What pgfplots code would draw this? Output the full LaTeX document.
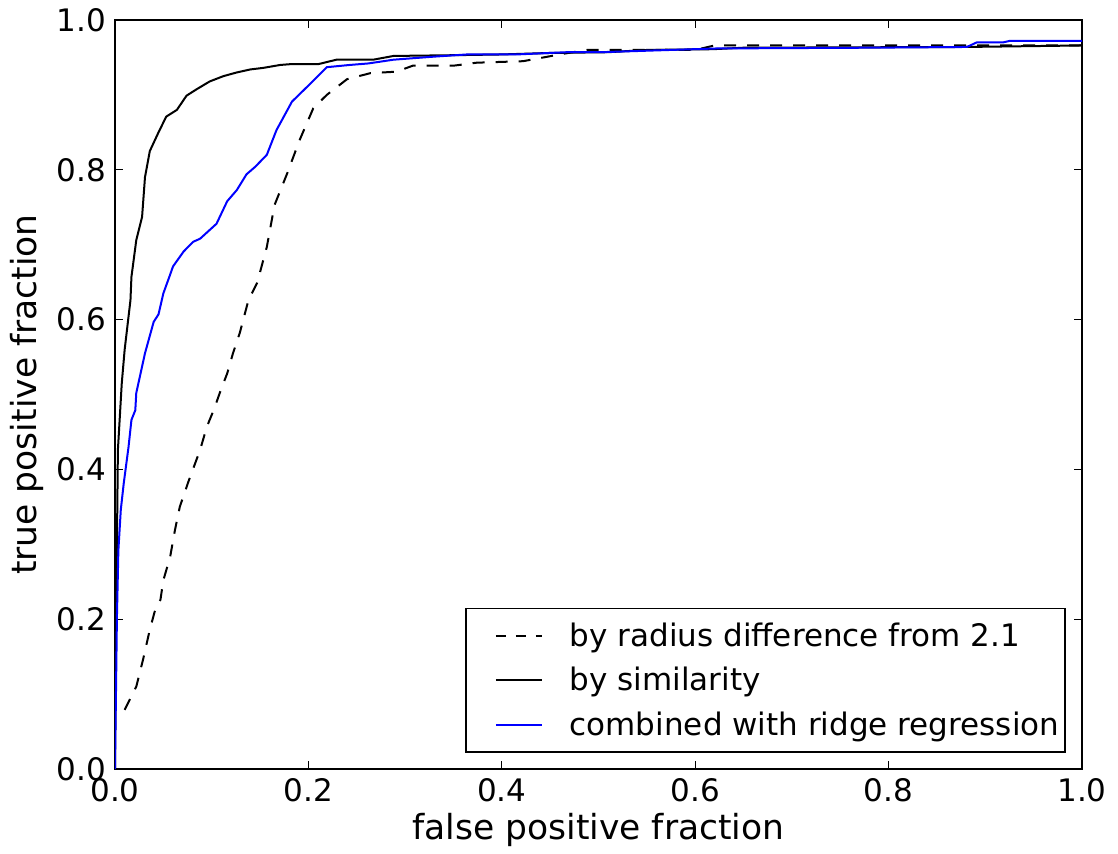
\documentclass[border=0pt]{standalone}
\usepackage{pgfplots}
\pgfplotsset{compat=1.18}
\usepackage{fontspec}
\setmainfont{DejaVu Sans}
\begin{document}
\begin{tikzpicture}
\begin{axis}[
  at={(0,0)}, anchor=south west,
  scale only axis, width=483.5pt, height=374.5pt,
  xmin=0, xmax=1, ymin=0, ymax=1,
  xtick={0,0.2,0.4,0.6,0.8,1.0}, ytick={0,0.2,0.4,0.6,0.8,1.0},
  minor tick num=0,
  tick align=inside, major tick length=4pt,
  tick style={line width=0.6pt, black},
  axis line style={line width=1pt},
  /pgf/number format/assume math mode=true,
  /pgf/number format/fixed,
  /pgf/number format/fixed zerofill,
  /pgf/number format/precision=1,
  ticklabel style={font=\fontsize{15.5}{18}\selectfont},
  xticklabel style={yshift=-1pt},
  yticklabel style={xshift=-1pt},
  xlabel={false positive fraction},
  ylabel={true positive fraction},
  label style={font=\fontsize{17.25}{20}\selectfont},
  xlabel style={at={(axis description cs:0.5,-0.0814)}, anchor=center},
  ylabel style={at={(axis description cs:-0.091,0.5)}, anchor=center, rotate=0},
  legend style={at={(rel axis cs:0.9835,0.0214)}, anchor=south east,
    draw=black, line width=0.8pt, fill=white, inner xsep=1pt, inner ysep=5pt,
    font=\fontsize{15.5}{18}\selectfont, row sep=5pt,
    cells={anchor=west}},
  legend cell align=left,
  legend image code/.code={\path (-13.5pt,0pt) (34.5pt,0pt);\draw[#1] (0pt,0pt) -- (23pt,0pt);},
]
\addplot[black, line width=1pt, dash pattern=on 6pt off 5.5pt,
  legend image post style={dash pattern=on 5pt off 5pt}] coordinates {
(0.010,0.079) (0.022,0.110) (0.029,0.146) (0.036,0.186) (0.041,0.210)
(0.047,0.226) (0.050,0.252) (0.057,0.283) (0.062,0.319) (0.067,0.350)
(0.076,0.384) (0.088,0.426) (0.095,0.457) (0.102,0.479) (0.110,0.508)
(0.116,0.528) (0.122,0.555) (0.129,0.582) (0.138,0.626) (0.147,0.649)
(0.157,0.697) (0.165,0.753) (0.178,0.795) (0.191,0.840) (0.205,0.882)
(0.219,0.900) (0.240,0.921) (0.264,0.929) (0.291,0.931) (0.308,0.939)
(0.350,0.939) (0.374,0.943) (0.422,0.945) (0.464,0.955) (0.488,0.960)
(0.600,0.960) (0.620,0.966) (1.000,0.966)
};
\addlegendentry{by radius difference from 2.1}
\addplot[black, line width=1pt] coordinates {
(0,0) (0.001,0.200) (0.002,0.300) (0.003,0.426) (0.007,0.515)
(0.010,0.560) (0.016,0.626) (0.017,0.657) (0.022,0.706) (0.028,0.737)
(0.031,0.790) (0.036,0.825) (0.045,0.850) (0.053,0.871) (0.064,0.880)
(0.074,0.899) (0.085,0.908) (0.098,0.918) (0.112,0.925) (0.126,0.930)
(0.140,0.934) (0.153,0.936) (0.171,0.940) (0.181,0.941) (0.210,0.941)
(0.229,0.947) (0.267,0.947) (0.288,0.952) (0.350,0.953) (0.400,0.954)
(0.450,0.956) (0.510,0.957) (0.550,0.960) (0.618,0.961) (0.650,0.963)
(0.880,0.964) (1.000,0.966)
};
\addlegendentry{by similarity}
\addplot[blue, line width=1pt] coordinates {
(0,0) (0.001,0.100) (0.002,0.203) (0.0035,0.292) (0.006,0.346)
(0.009,0.381) (0.014,0.430) (0.017,0.466) (0.021,0.479) (0.022,0.502)
(0.031,0.555) (0.040,0.597) (0.045,0.607) (0.050,0.635) (0.057,0.660)
(0.060,0.671) (0.071,0.691) (0.081,0.704) (0.088,0.708) (0.105,0.728)
(0.116,0.758) (0.126,0.773) (0.136,0.794) (0.145,0.804) (0.157,0.820)
(0.167,0.853) (0.183,0.891) (0.202,0.915) (0.219,0.937) (0.243,0.940)
(0.262,0.942) (0.288,0.947) (0.329,0.951) (0.364,0.954) (0.415,0.954)
(0.467,0.957) (0.502,0.957) (0.622,0.962) (0.777,0.963) (0.881,0.964)
(0.891,0.970) (0.918,0.970) (0.925,0.972) (1.000,0.972)
};
\addlegendentry{combined with ridge regression}
\end{axis}
\pgfresetboundingbox
\path (-57.5pt,-42pt) rectangle (501.5pt,384.5pt);
\end{tikzpicture}
\end{document}
